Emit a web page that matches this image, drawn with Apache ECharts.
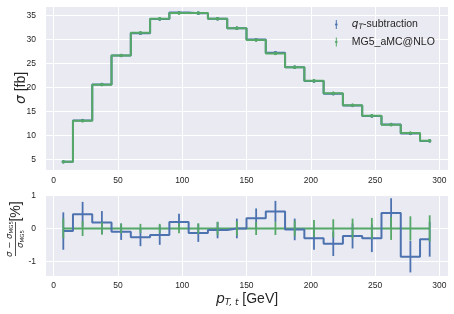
<!DOCTYPE html>
<html><head><meta charset="utf-8">
<script src="https://cdn.jsdelivr.net/npm/echarts@6/dist/echarts.min.js"></script>
<style>html,body{margin:0;padding:0;background:#fff}#c{width:454px;height:314px}</style>
</head><body><div id="c"></div>
<script>
// ---- data ----
const binCenters = [7.5,22.5,37.5,52.5,67.5,82.5,97.5,112.5,127.5,142.5,157.5,172.5,187.5,202.5,217.5,232.5,247.5,262.5,277.5,292.5];
const mg5Xsec   = [4.45,13.0,20.55,26.65,31.35,34.3,35.5,35.5,34.3,32.3,29.85,27.05,24.2,21.35,18.75,16.25,14.05,12.2,10.45,8.85];
const mg5ErrTop = [0.013,0.036,0.04,0.04,0.044,0.048,0.053,0.053,0.06,0.065,0.06,0.06,0.06,0.055,0.052,0.049,0.046,0.043,0.039,0.035];
const qtXsec    = [4.45,13.06,20.59,26.62,31.27,34.23,35.57,35.45,34.28,32.3,29.94,27.19,24.19,21.29,18.66,16.21,14.01,12.26,10.36,8.82];
const qtErrTop  = [0.025,0.05,0.07,0.07,0.085,0.1,0.09,0.096,0.086,0.097,0.09,0.087,0.08,0.075,0.07,0.062,0.059,0.055,0.05,0.047];
const qtRatio   = [-0.08,0.43,0.18,-0.10,-0.27,-0.20,0.20,-0.14,-0.05,0.0,0.31,0.52,-0.03,-0.30,-0.47,-0.23,-0.30,0.47,-0.86,-0.33];
const qtRatioErr= [0.57,0.38,0.35,0.25,0.27,0.30,0.25,0.27,0.25,0.30,0.30,0.32,0.33,0.35,0.37,0.38,0.42,0.45,0.48,0.53];
const mg5Ratio  = [0,0,0,0,0,0,0,0,0,0,0,0,0,0,0,0,0,0,0,0];
const mg5RatioErr=[0.30,0.23,0.19,0.15,0.14,0.14,0.15,0.16,0.20,0.22,0.20,0.20,0.24,0.26,0.28,0.30,0.32,0.35,0.37,0.40];
const seriesNames = ['q_T-subtraction','MG5_aMC@NLO'];

const BLUE = '#4C72B0', GREEN = '#55A868', TXT = '#262626', FONT = 'Liberation Sans, Arial, sans-serif';

function pts(xs, ys){ return xs.map((x,i)=>[x, ys[i]]); }
function errPts(xs, ys, es){ return xs.map((x,i)=>[x, ys[i], es[i]]); }
function errRender(color, dot){
  return function(params, api){
    const x = api.value(0), y = api.value(1), e = api.value(2);
    const t = api.coord([x, y+e]), b = api.coord([x, y-e]), c = api.coord([x, y]);
    const ch = [{type:'line', shape:{x1:t[0],y1:t[1]-(dot?1.2:0),x2:b[0],y2:b[1]+(dot?1.2:0)}, style:{stroke:color, lineWidth:1.8}}];
    if (dot) ch.push({type:'circle', shape:{cx:c[0], cy:c[1], r:1.7}, style:{fill:color}});
    return {type:'group', children: ch};
  };
}
function stepSeries(name, xi, yi, data, color, z){
  return {name, type:'line', xAxisIndex:xi, yAxisIndex:yi, step:'middle', data, showSymbol:false, symbol:'none',
    lineStyle:{color, width:2}, itemStyle:{color}, z, silent:true, animation:false};
}
function errSeries(name, xi, yi, data, color, z, dot){
  return {name, type:'custom', xAxisIndex:xi, yAxisIndex:yi, data, renderItem: errRender(color, dot),
    encode:{x:0, y:1}, itemStyle:{color}, z, silent:true, animation:false};
}

const axisCommon = {
  axisLine:{show:false}, axisTick:{show:false},
  splitLine:{show:true, lineStyle:{color:'#ffffff', width:1}},
  axisLabel:{color:TXT, fontSize:8.5, fontFamily:FONT, showMinLabel:false, showMaxLabel:false}
};
const legendIcon = 'path://M3,0 L4,0 L4,9 L3,9 Z M3.5,3.2 A1.3,1.3 0 1 1 3.49,3.2 Z';

const chart = echarts.init(document.getElementById('c'), null, {renderer:'canvas'});
chart.setOption({
  animation:false,
  backgroundColor:'#ffffff',
  grid:[
    {left:45, top:6, width:403, height:164, show:true, backgroundColor:'#EAEAF2', borderWidth:0},
    {left:45, top:194, width:403, height:82, show:true, backgroundColor:'#EAEAF2', borderWidth:0}
  ],
  xAxis:[
    Object.assign({type:'value', gridIndex:0, min:-6.75, max:306.75, splitNumber:6}, axisCommon,
      {axisLabel:Object.assign({}, axisCommon.axisLabel, {margin:6})}),
    Object.assign({type:'value', gridIndex:1, min:-6.75, max:306.75, splitNumber:6}, axisCommon,
      {axisLabel:Object.assign({}, axisCommon.axisLabel, {margin:5})})
  ],
  yAxis:[
    Object.assign({type:'value', gridIndex:0, min:2.75, max:36.95, splitNumber:7}, axisCommon,
      {axisLabel:Object.assign({}, axisCommon.axisLabel, {margin:9})}),
    Object.assign({type:'value', gridIndex:1, min:-1.45, max:1.05, splitNumber:3}, axisCommon,
      {axisLabel:Object.assign({}, axisCommon.axisLabel, {margin:9})})
  ],
  legend:{
    orient:'vertical', left:330, top:14, itemWidth:7, itemHeight:9, itemGap:5.5,
    data:[
      {name:seriesNames[0], icon:legendIcon},
      {name:seriesNames[1], icon:legendIcon}
    ],
    formatter: function(n){ return n === seriesNames[0] ? '{i|q}{s|T}{n|-subtraction}' : '{n|' + n + '}'; },
    textStyle:{color:TXT, fontSize:10.5, fontFamily:FONT, padding:[0,0,0,7],
      rich:{
        i:{fontStyle:'italic', fontSize:10.5, fontFamily:'DejaVu Sans', color:TXT},
        s:{fontStyle:'italic', fontSize:7.5, fontFamily:'DejaVu Sans', color:TXT, padding:[5,0,0,0]},
        n:{fontSize:10.5, fontFamily:FONT, color:TXT}
      }}
  },
  graphic:[
    {type:'text', x:21, y:88, rotation:Math.PI/2, style:{
      text:'{s|σ} [fb]', fill:TXT, font:'14px ' + FONT, align:'center', verticalAlign:'middle',
      rich:{s:{fontStyle:'italic', fontFamily:'DejaVu Sans', fontSize:14, fill:TXT}}}},
    {type:'group', x:15, y:232, rotation:Math.PI/2, children:[
      {type:'text', x:-7, y:-5.5, style:{text:'{a|σ − σ}{b|MG5}', align:'center', verticalAlign:'middle', fill:TXT,
        rich:{a:{fontStyle:'italic', fontFamily:'DejaVu Sans', fontSize:8.5, fill:TXT},
              b:{fontFamily:'DejaVu Sans', fontSize:5.5, fill:TXT, padding:[4,0,0,0]}}}},
      {type:'line', shape:{x1:-24, y1:0.5, x2:10, y2:0.5}, style:{stroke:TXT, lineWidth:0.8}},
      {type:'text', x:-7, y:6, style:{text:'{a|σ}{b|MG5}', align:'center', verticalAlign:'middle', fill:TXT,
        rich:{a:{fontStyle:'italic', fontFamily:'DejaVu Sans', fontSize:8.5, fill:TXT},
              b:{fontFamily:'DejaVu Sans', fontSize:5.5, fill:TXT, padding:[4,0,0,0]}}}},
      {type:'text', x:20.5, y:1.5, style:{text:'[%]', align:'center', verticalAlign:'middle', fill:TXT, font:'14px ' + FONT}}
    ]},
    {type:'text', x:247, y:299, style:{
      text:'{p|p}{s|T, t}{n| [GeV]}', align:'center', verticalAlign:'middle', fill:TXT,
      rich:{p:{fontStyle:'italic', fontFamily:'DejaVu Sans', fontSize:14, fill:TXT},
            s:{fontStyle:'italic', fontFamily:'DejaVu Sans', fontSize:9, fill:TXT, padding:[7,0,0,0]},
            n:{fontFamily:FONT, fontSize:14, fill:TXT}}}}
  ],
  series:[
    stepSeries(seriesNames[0], 0, 0, pts(binCenters, qtXsec), BLUE, 2),
    errSeries(seriesNames[0], 0, 0, errPts(binCenters, qtXsec, qtErrTop), BLUE, 3, true),
    stepSeries(seriesNames[1], 0, 0, pts(binCenters, mg5Xsec), GREEN, 4),
    errSeries(seriesNames[1], 0, 0, errPts(binCenters, mg5Xsec, mg5ErrTop), GREEN, 5, true),
    stepSeries(seriesNames[1], 1, 1, pts(binCenters, mg5Ratio), GREEN, 2),
    stepSeries(seriesNames[0], 1, 1, pts(binCenters, qtRatio), BLUE, 3),
    errSeries(seriesNames[0], 1, 1, errPts(binCenters, qtRatio, qtRatioErr), BLUE, 4, false),
    errSeries(seriesNames[1], 1, 1, errPts(binCenters, mg5Ratio, mg5RatioErr), GREEN, 5, false)
  ]
});
</script>
</body></html>
